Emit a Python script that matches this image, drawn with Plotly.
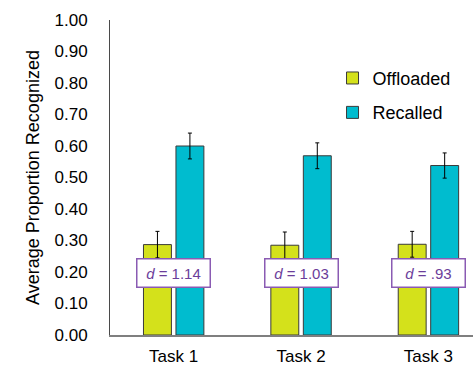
import plotly.graph_objects as go

# Recognition data per task
tasks = ["Task 1", "Task 2", "Task 3"]
offloaded = [0.287, 0.285, 0.288]
offloaded_err = [0.042, 0.042, 0.041]
recalled = [0.600, 0.569, 0.538]
recalled_err = [0.041, 0.041, 0.040]
effect_labels = ["1.14", "1.03", ".93"]
effect_label_y = [0.197, 0.197, 0.197]

FONT = "Liberation Sans, Arial, sans-serif"
BAR_LINE = dict(color="#3a3a3a", width=1)
ERR = dict(type="data", thickness=1, width=2, color="#000000")

fig = go.Figure()
fig.add_trace(go.Bar(
    name="Offloaded", x=tasks, y=offloaded,
    marker=dict(color="#d4e11b", line=BAR_LINE),
    error_y=dict(array=offloaded_err, **ERR),
    legendgroup="a",
))
fig.add_trace(go.Bar(
    name="Recalled", x=tasks, y=recalled,
    marker=dict(color="#00bccf", line=BAR_LINE),
    error_y=dict(array=recalled_err, **ERR),
    legendgroup="b",
))

# Effect-size boxes centred on each task
for t, lab, yy in zip(tasks, effect_labels, effect_label_y):
    fig.add_annotation(
        x=t, y=yy, xref="x", yref="y",
        text=f"<i>d</i> = {lab}", showarrow=False,
        font=dict(family=FONT, size=15, color="#6b3d9a"),
        bgcolor="#ffffff", bordercolor="#8a5bb3", borderwidth=1.5,
        borderpad=1, width=70, height=25,
    )

fig.update_layout(
    width=473, height=369,
    margin=dict(l=110, r=0, t=20, b=34, autoexpand=False),
    paper_bgcolor="#ffffff", plot_bgcolor="#ffffff",
    font=dict(family=FONT, size=17, color="#000000"),
    barmode="group", bargap=0.49, bargroupgap=0.14,
    showlegend=True,
    legend=dict(
        xref="container", yref="container",
        x=0.703, y=0.838, xanchor="left", yanchor="top",
        font=dict(family=FONT, size=18, color="#000000"),
        bgcolor="rgba(0,0,0,0)", tracegroupgap=8,
        itemwidth=30,
    ),
    xaxis=dict(
        type="category", range=[-0.5, 2.35],
        showline=True, linecolor="#7f7f7f", linewidth=1.5,
        showgrid=False, ticks="", ticklabelstandoff=5,
        tickfont=dict(family=FONT, size=17),
    ),
    yaxis=dict(
        range=[0, 1], dtick=0.1, tickformat=".2f",
        showline=True, linecolor="#4a4a4a", linewidth=1,
        showgrid=False, zeroline=False, ticks="",
        ticklabelstandoff=18,
        tickfont=dict(family=FONT, size=17),
        title=dict(text="Average Proportion Recognized",
                   font=dict(family=FONT, size=18), standoff=10),
    ),
)

fig.write_html("out.html")
